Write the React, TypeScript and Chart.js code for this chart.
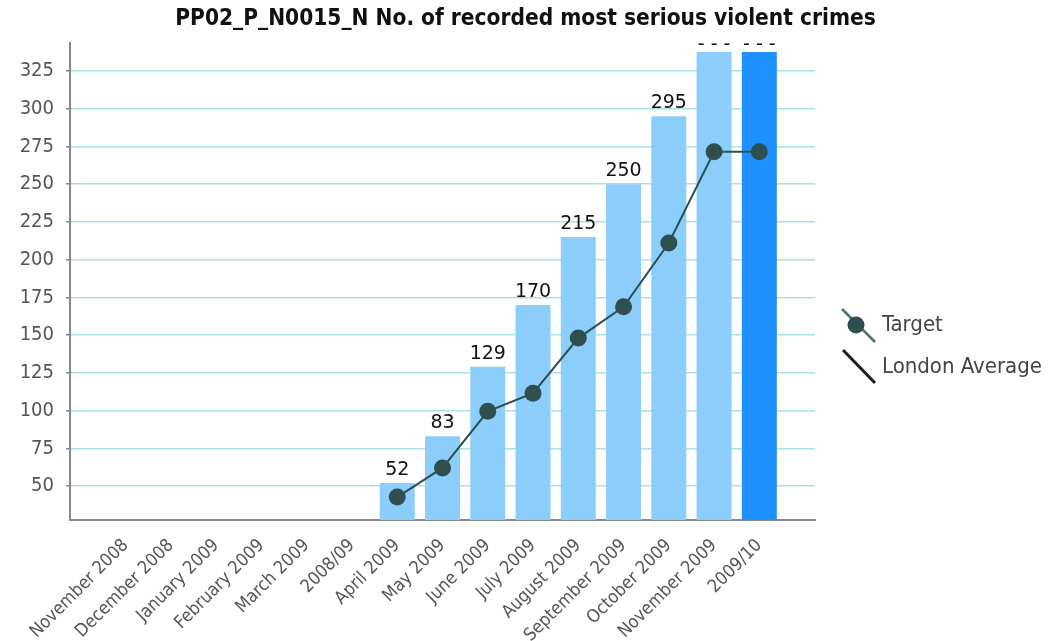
import { useEffect, useRef } from "react";
import { Chart, registerables } from "chart.js";

Chart.register(...registerables);

// Monthly and year-to-date periods along the x axis
const categories = [
  "November 2008",
  "December 2008",
  "January 2009",
  "February 2009",
  "March 2009",
  "2008/09",
  "April 2009",
  "May 2009",
  "June 2009",
  "July 2009",
  "August 2009",
  "September 2009",
  "October 2009",
  "November 2009",
  "2009/10",
];

// Cumulative recorded most serious violent crimes
const recorded = [null, null, null, null, null, null, 52, 83, 129, 170, 215, 250, 295, 337.6, 337.6];
// Value labels printed above the bars ("- - -" where no figure is published)
const recordedLabels = [null, null, null, null, null, null, "52", "83", "129", "170", "215", "250", "295", "- - -", "- - -"];
// Target trajectory
const target = [null, null, null, null, null, null, 42.7, 62, 99.5, 111.5, 148, 168.7, 211, 271.5, 271.5];
// London average (no values available for this borough view)
const londonAverage = [null, null, null, null, null, null, null, null, null, null, null, null, null, null, null];

const yTicks = [50, 75, 100, 125, 150, 175, 200, 225, 250, 275, 300, 325];
const yMin = 27.5;
const yMax = 343.5;

const TITLE = "PP02_P_N0015_N No. of recorded most serious violent crimes";
const FONT = '"DejaVu Sans Condensed", "DejaVu Sans", sans-serif';

const LIGHT_BAR = "#8BCDFB";
const TOTAL_BAR = "#1E90FF";
const TARGET_COLOR = "#2F4F4F";

const titlePlugin = {
  id: "chartTitle",
  afterDraw(chart: any) {
    const { ctx } = chart;
    ctx.save();
    ctx.font = `bold 22.5px ${FONT}`;
    ctx.fillStyle = "#111";
    ctx.textAlign = "center";
    ctx.textBaseline = "middle";
    ctx.fillText(TITLE, chart.width / 2 - 5, 19);
    ctx.restore();
  },
};

const barLabelPlugin = {
  id: "barLabels",
  afterDatasetsDraw(chart: any) {
    const { ctx, chartArea } = chart;
    const meta = chart.getDatasetMeta(2);
    ctx.save();
    ctx.font = `19px "DejaVu Sans", sans-serif`;
    ctx.fillStyle = "#111";
    ctx.textAlign = "center";
    ctx.textBaseline = "alphabetic";
    meta.data.forEach((el: any, i: number) => {
      const text = recordedLabels[i];
      if (!text || recorded[i] == null) return;
      // keep labels of the tallest bars inside the plot area
      const y = Math.max(el.y - 8, chartArea.top + 7);
      ctx.fillText(text, el.x, y);
    });
    ctx.restore();
  },
};

const legendPlugin = {
  id: "sideLegend",
  afterDraw(chart: any) {
    const { ctx, chartArea } = chart;
    const x0 = chartArea.right + 27;
    ctx.save();
    // Target: slanted line with a marker
    ctx.strokeStyle = "#4A7575";
    ctx.lineWidth = 2.5;
    ctx.beginPath();
    ctx.moveTo(x0, 309);
    ctx.lineTo(x0 + 33, 342);
    ctx.stroke();
    ctx.fillStyle = TARGET_COLOR;
    ctx.beginPath();
    ctx.arc(x0 + 14, 325, 8.5, 0, Math.PI * 2);
    ctx.fill();
    // London Average: slanted line only
    ctx.strokeStyle = "#1A1A1A";
    ctx.lineWidth = 3;
    ctx.beginPath();
    ctx.moveTo(x0 + 1, 350);
    ctx.lineTo(x0 + 33, 383);
    ctx.stroke();

    ctx.font = `22px ${FONT}`;
    ctx.fillStyle = "#444";
    ctx.textAlign = "left";
    ctx.textBaseline = "middle";
    ctx.fillText("Target", x0 + 40, 325);
    ctx.fillText("London Average", x0 + 40, 367);
    ctx.restore();
  },
};

export default function App() {
  const canvasRef = useRef<HTMLCanvasElement | null>(null);

  useEffect(() => {
    const canvas = canvasRef.current;
    if (!canvas) return;

    const toPoints = (arr: (number | null)[]) => arr.map((y, i) => ({ x: i, y }));

    const chart = new Chart(canvas, {
      type: "bar",
      data: {
        datasets: [
          {
            type: "line",
            label: "Target",
            data: toPoints(target),
            borderColor: TARGET_COLOR,
            borderWidth: 2,
            pointRadius: 8.5,
            pointBackgroundColor: TARGET_COLOR,
            pointBorderColor: TARGET_COLOR,
            pointBorderWidth: 0,
            order: 0,
          },
          {
            type: "line",
            label: "London Average",
            data: toPoints(londonAverage),
            borderColor: "#1A1A1A",
            borderWidth: 2,
            pointRadius: 0,
            order: 0,
          },
          {
            type: "bar",
            label: "No. of recorded most serious violent crimes",
            data: toPoints(recorded),
            backgroundColor: categories.map((c) => (c.includes("/") ? TOTAL_BAR : LIGHT_BAR)),
            borderWidth: 0,
            barPercentage: 0.773,
            categoryPercentage: 1,
            order: 1,
          },
        ] as any,
      },
      options: {
        animation: false,
        responsive: false,
        layout: { padding: { top: 43, right: 246, left: 0, bottom: 0 } },
        plugins: {
          legend: { display: false },
          tooltip: { enabled: false },
          title: { display: false },
        },
        scales: {
          x: {
            type: "linear",
            offset: false,
            min: -1.23,
            max: 15.23,
            grid: { display: false, drawTicks: false, offset: false },
            border: { display: true, color: "#888", width: 2 },
            afterBuildTicks: (scale: any) => {
              scale.ticks = categories.map((_, i) => ({ value: i }));
            },
            afterFit: (scale: any) => {
              scale.height = 121;
            },
            ticks: {
              autoSkip: false,
              minRotation: 45,
              maxRotation: 45,
              padding: 15,
              color: "#555",
              font: { family: FONT, size: 18 },
              callback: (v: any) => categories[v as number] ?? "",
            },
          },
          y: {
            type: "linear",
            min: yMin,
            max: yMax,
            afterBuildTicks: (scale: any) => {
              scale.ticks = yTicks.map((v) => ({ value: v }));
            },
            afterFit: (scale: any) => {
              scale.width = 70;
            },
            grid: { color: "#ACDFE6", lineWidth: 1.5, tickColor: "#888", tickLength: 4 },
            border: { display: true, color: "#888", width: 2 },
            ticks: {
              padding: 12,
              color: "#555",
              font: { family: FONT, size: 20 },
            },
          },
        },
      } as any,
      plugins: [titlePlugin, barLabelPlugin, legendPlugin],
    });

    return () => chart.destroy();
  }, []);

  return (
    <div style={{ position: "fixed", left: 0, top: 0, width: 1061, height: 641, background: "#fff" }}>
      <canvas ref={canvasRef} width={1061} height={641} style={{ display: "block" }} />
    </div>
  );
}
